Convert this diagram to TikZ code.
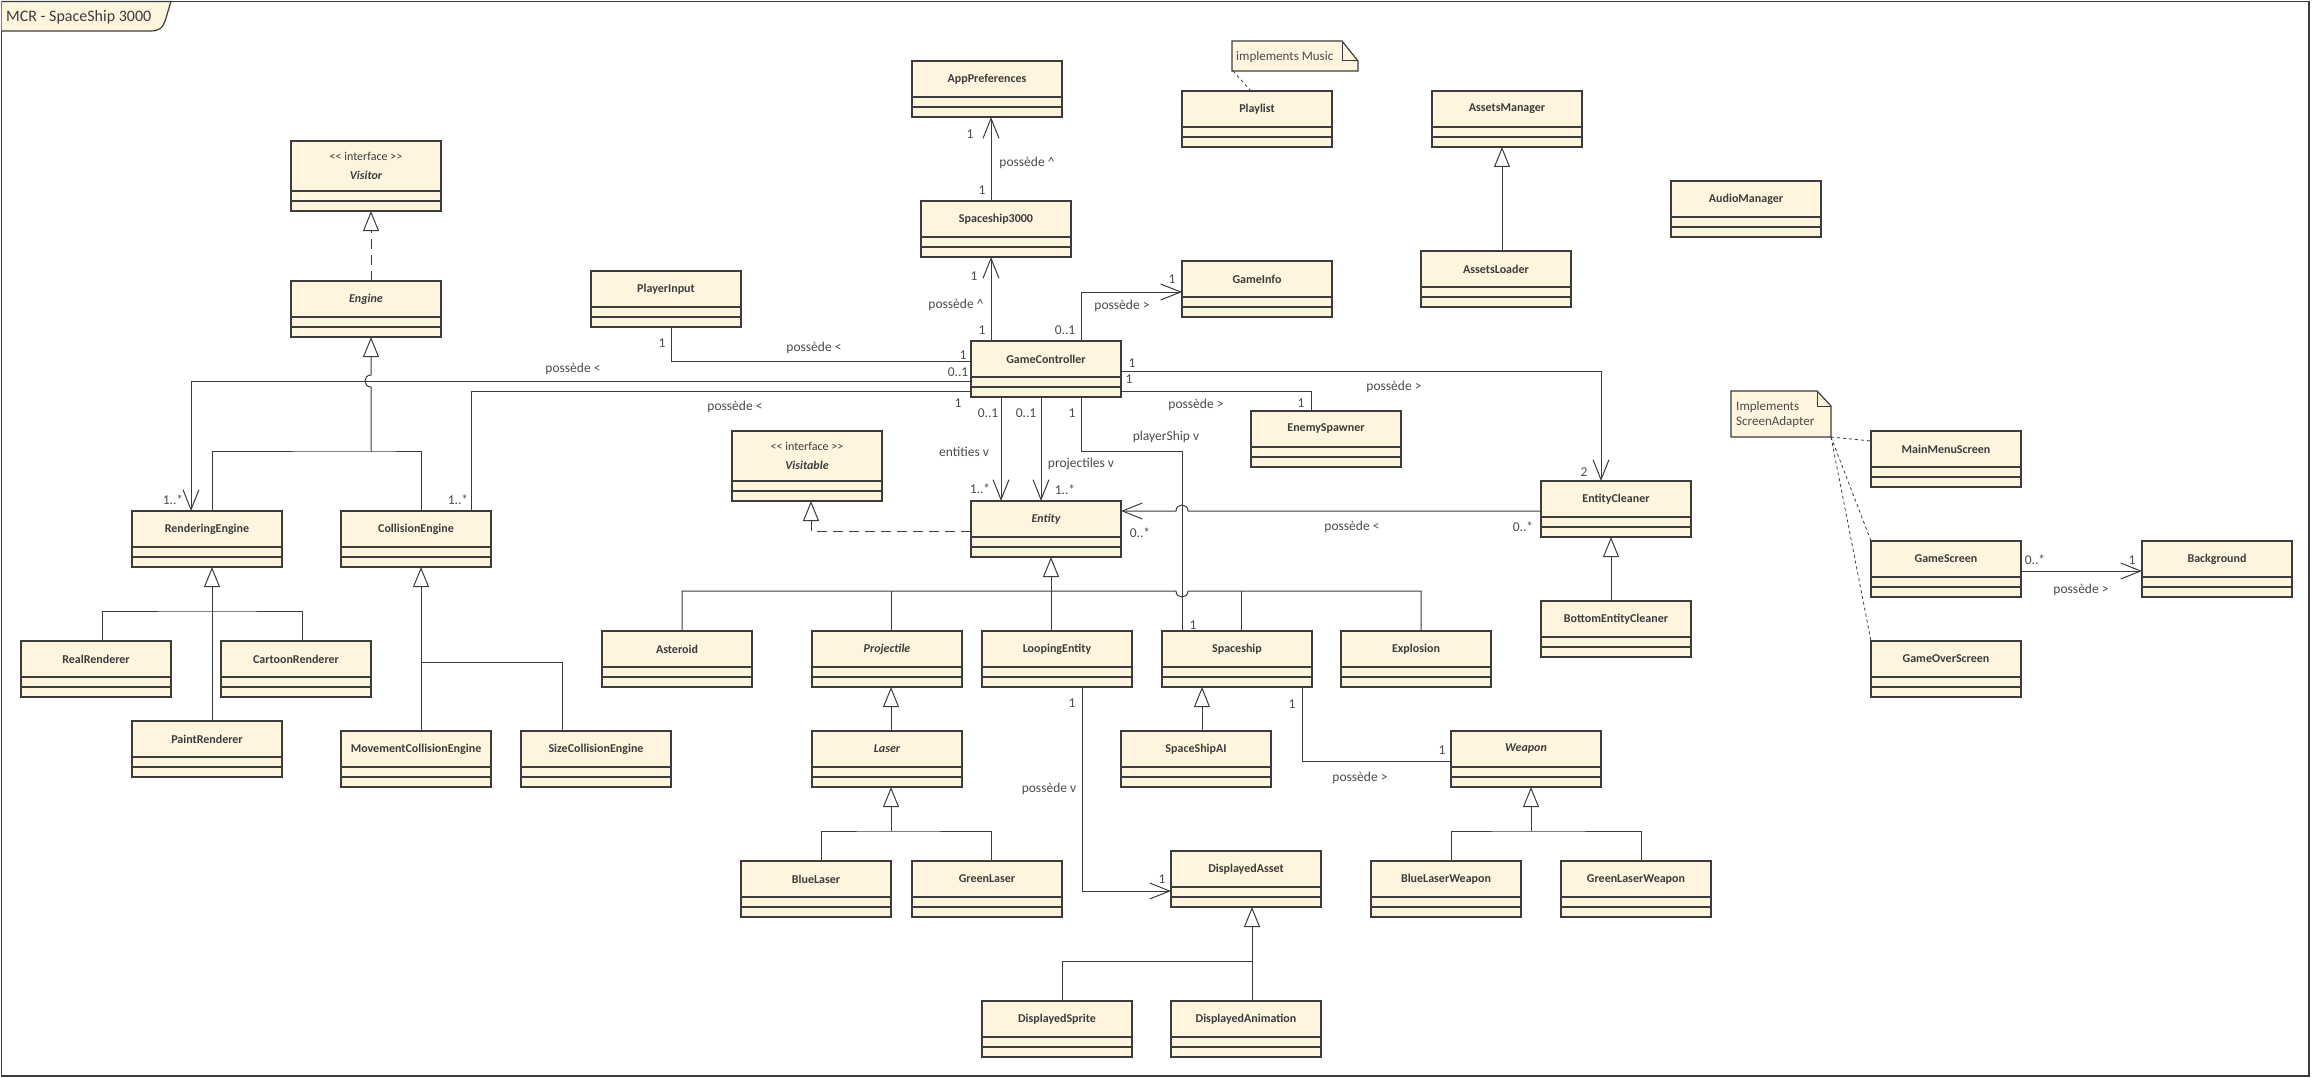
\documentclass[tikz,border=0pt]{standalone}
\usepackage{fontspec}
\setmainfont{Carlito}
\usetikzlibrary{arrows.meta,calc}
\definecolor{clsfill}{HTML}{FFF5DF}
\definecolor{ink}{HTML}{3C3C3C}
\definecolor{lblink}{HTML}{4A4A4A}
\tikzset{
 clsbox/.style={draw=ink,fill=clsfill,line width=1.2pt,minimum width=150pt,minimum height=56pt,inner sep=0pt,outer sep=0pt},
 clsline/.style={draw=ink,line width=1.2pt},
 clsname/.style={font=\fontsize{12}{14}\selectfont\bfseries,text=ink,inner sep=0pt},
 abstr/.style={font=\fontsize{12}{14}\selectfont\bfseries\itshape},
 stereo/.style={font=\fontsize{12}{14}\selectfont,text=ink,inner sep=0pt},
 lbl/.style={font=\fontsize{13.5}{16}\selectfont,text=lblink,inner sep=0pt},
 conn/.style={draw=ink,line width=1pt},
 assoc/.style={conn,-{Straight Barb[length=20pt,width=16pt]}},
 inh/.style={conn,-{Triangle[open,length=20pt,width=16pt]}},
 realz/.style={inh,dash pattern=on 10pt off 6pt},
 notelink/.style={draw=ink,line width=0.8pt,dash pattern=on 3pt off 3pt},
 notebox/.style={inner sep=0pt,outer sep=0pt,draw=none},
}
\newcommand{\umlcls}[5][]{%
  \node[clsbox,anchor=north west] (#2) at (#3,#4) {};
  \node[clsname,#1] (#2-n) at ($(#2.north west)+(75,18)$) {#5};
  \draw[clsline] ($(#2.north west)+(0,36)$) -- ($(#2.north east)+(0,36)$);
  \draw[clsline] ($(#2.north west)+(0,46)$) -- ($(#2.north east)+(0,46)$);
}
\newcommand{\umlint}[4]{%
  \node[clsbox,minimum height=70pt,anchor=north west] (#1) at (#2,#3) {};
  \node[stereo] (#1-s) at ($(#1.north west)+(75,15)$) {<\kern0pt< interface >\kern0pt>};
  \node[clsname,abstr] (#1-n) at ($(#1.north west)+(75,34)$) {#4};
  \draw[clsline] ($(#1.north west)+(0,50)$) -- ($(#1.north east)+(0,50)$);
  \draw[clsline] ($(#1.north west)+(0,60)$) -- ($(#1.north east)+(0,60)$);
}
\begin{document}
\begin{tikzpicture}[x=1pt,y=-1pt]
\useasboundingbox (0,0) rectangle (2312,1078);
% frame
\draw[draw=ink,line width=1.2pt] (1.5,1.5) rectangle (2309,1076);
\draw[draw=ink,fill=clsfill,line width=1.2pt] (1.5,1.5) -- (171,1.5) -- (166,18) .. controls (163,28) and (160,31) .. (150,31) -- (1.5,31);
\node[anchor=west,inner sep=0pt,text=ink,font=\fontsize{16}{18}\selectfont] (title) at (6,17) {MCR - SpaceShip 3000};

% classes
\umlint{Vis}{291}{141}{Visitor}
\umlcls[abstr]{Eng}{291}{281}{Engine}
\umlcls{PI}{591}{271}{PlayerInput}
\umlcls{AP}{912}{61}{AppPreferences}
\umlcls{PL}{1182}{91}{Playlist}
\umlcls{AM}{1432}{91}{AssetsManager}
\umlcls{AL}{1421}{251}{AssetsLoader}
\umlcls{AuM}{1671}{181}{AudioManager}
\umlcls{S3}{921}{201}{Spaceship3000}
\umlcls{GI}{1182}{261}{GameInfo}
\umlcls{GC}{971}{341}{GameController}
\umlcls{ES}{1251}{411}{EnemySpawner}
\umlint{Vbl}{732}{431}{Visitable}
\umlcls[abstr]{Ent}{971}{501}{Entity}
\umlcls{EC}{1541}{481}{EntityCleaner}
\umlcls{BEC}{1541}{601}{BottomEntityCleaner}
\umlcls{RE}{132}{511}{RenderingEngine}
\umlcls{CE}{341}{511}{CollisionEngine}
\umlcls{RR}{21}{641}{RealRenderer}
\umlcls{CR}{221}{641}{CartoonRenderer}
\umlcls{PR}{132}{721}{PaintRenderer}
\umlcls{MCE}{341}{731}{MovementCollisionEngine}
\umlcls{SCE}{521}{731}{SizeCollisionEngine}
\umlcls{Ast}{602}{631}{Asteroid}
\umlcls[abstr]{Proj}{812}{631}{Projectile}
\umlcls{LE}{982}{631}{LoopingEntity}
\umlcls{SS}{1162}{631}{Spaceship}
\umlcls{Exp}{1341}{631}{Explosion}
\umlcls[abstr]{Las}{812}{731}{Laser}
\umlcls{SAI}{1121}{731}{SpaceShipAI}
\umlcls[abstr]{Wea}{1451}{731}{Weapon}
\umlcls{BL}{741}{861}{BlueLaser}
\umlcls{GL}{912}{861}{GreenLaser}
\umlcls{DA}{1171}{851}{DisplayedAsset}
\umlcls{BLW}{1371}{861}{BlueLaserWeapon}
\umlcls{GLW}{1561}{861}{GreenLaserWeapon}
\umlcls{DS}{982}{1001}{DisplayedSprite}
\umlcls{DAn}{1171}{1001}{DisplayedAnimation}
\umlcls{MMS}{1871}{431}{MainMenuScreen}
\umlcls{GS}{1871}{541}{GameScreen}
\umlcls{GOS}{1871}{641}{GameOverScreen}
\umlcls{BG}{2142}{541}{Background}

% notes
\node[notebox,minimum width=126pt,minimum height=30pt,anchor=north west] (N1) at (1232,41) {};
\draw[draw=ink,fill=clsfill,line width=1.2pt] (N1.north west) -- ($(N1.north east)+(-16,0)$) -- ($(N1.north east)+(0,20)$) -- (N1.south east) -- (N1.south west) -- cycle;
\draw[draw=ink,line width=1pt] ($(N1.north east)+(-16,0)$) -- ($(N1.north east)+(-16,20)$) -- ($(N1.north east)+(0,20)$);
\node[lbl,anchor=west,font=\fontsize{13}{15}\selectfont] (N1-t) at (1236,57) {implements Music};
\node[notebox,minimum width=100pt,minimum height=46pt,anchor=north west] (N2) at (1731,391) {};
\draw[draw=ink,fill=clsfill,line width=1.2pt] (N2.north west) -- ($(N2.north east)+(-14,0)$) -- ($(N2.north east)+(0,15)$) -- (N2.south east) -- (N2.south west) -- cycle;
\draw[draw=ink,line width=1pt] ($(N2.north east)+(-14,0)$) -- ($(N2.north east)+(-14,15)$) -- ($(N2.north east)+(0,15)$);
\node[lbl,anchor=west,align=left,font=\fontsize{13}{15}\selectfont] (N2-t) at (1736,414.5) {Implements\\ScreenAdapter};
\draw[notelink] ($(N1.south west)+(1,0)$) -- ($(PL.north west)+(69,0)$);
\draw[notelink] (N2.south east) -- ($(MMS.north west)+(0,10)$);
\draw[notelink] (N2.south east) -- (GS.north west);
\draw[notelink] (N2.south east) -- (GOS.north west);

% realizations
\draw[realz] ($(Eng.north west)+(80,0)$) -- ($(Vis.south west)+(80,0)$);
\draw[realz] ($(Ent.north west)+(0,30)$) -| ($(Vbl.south west)+(79,0)$);

% Engine hierarchy (with hop)
\draw[inh] ($(Eng.south west)+(80,114)$) -- ($(Eng.south west)+(80,50)$) .. controls +(-8,0) and +(-8,0) .. ($(Eng.south west)+(80,38)$) -- ($(Eng.south west)+(80,0)$);
\draw[conn] ($(RE.north west)+(80,0)$) |- ($(Eng.south west)+(80,114)$) -| ($(CE.north west)+(80,0)$);

% GameController associations
\draw[assoc] ($(GC.north west)+(0,40)$) -| ($(RE.north west)+(59,0)$);
\draw[conn] ($(GC.north west)+(0,50)$) -| ($(CE.north west)+(130,0)$);
\draw[conn] ($(PI.south west)+(80,0)$) |- ($(GC.north west)+(0,20)$);
\draw[assoc] ($(GC.north west)+(20,0)$) -- ($(S3.south west)+(70,0)$);
\draw[assoc] ($(S3.north west)+(70,0)$) -- ($(AP.south west)+(79,0)$);
\draw[assoc] ($(GC.north west)+(110,0)$) |- ($(GI.north west)+(0,31)$);
\draw[assoc] ($(GC.north east)+(0,30)$) -| ($(EC.north west)+(60,0)$);
\draw[conn] ($(GC.north east)+(0,50)$) -| ($(ES.north west)+(60,0)$);
\draw[assoc] ($(GC.south west)+(30,0)$) -- ($(Ent.north west)+(30,0)$);
\draw[assoc] ($(GC.south west)+(70,0)$) -- ($(Ent.north west)+(70,0)$);
\draw[conn] ($(GC.south west)+(110,0)$) -- ($(GC.south west)+(110,54)$) -| ($(SS.north west)+(20,0)$);
\draw[assoc] ($(EC.north west)+(0,30)$) -- (1188,511) .. controls (1188,503) and (1176,503) .. (1176,511) -- ($(Ent.north east)+(0,10)$);

% Entity hierarchy
\draw[inh] ($(Ent.south west)+(80,34)$) -- ($(Ent.south west)+(80,0)$);
\draw[conn] ($(Ast.north west)+(80,0)$) |- (1176,591) .. controls (1176,599) and (1188,599) .. (1188,591) -| ($(Exp.north west)+(80,0)$);
\draw[conn] ($(Proj.north west)+(79,0)$) -- ($(Proj.north west)+(79,-40)$);
\draw[conn] ($(LE.north west)+(69,0)$) -- ($(Ent.south west)+(80,34)$);
\draw[conn] ($(SS.north west)+(79,0)$) -- ($(SS.north west)+(79,-40)$);

% Rendering / Collision hierarchies
\draw[inh] ($(PR.north west)+(80,0)$) -- ($(RE.south west)+(80,0)$);
\draw[conn] ($(RR.north west)+(81,0)$) |- ($(RE.south west)+(80,44)$) -| ($(CR.north west)+(81,0)$);
\draw[inh] ($(MCE.north west)+(80,0)$) -- ($(CE.south west)+(80,0)$);
\draw[conn] ($(SCE.north west)+(41,0)$) |- ($(CE.south west)+(80,95)$);

% Projectile / Laser
\draw[inh] ($(Las.north west)+(79,0)$) -- ($(Proj.south west)+(79,0)$);
\draw[inh] ($(Las.south west)+(79,44)$) -- ($(Las.south west)+(79,0)$);
\draw[conn] ($(BL.north west)+(80,0)$) |- ($(Las.south west)+(79,44)$) -| ($(GL.north west)+(79,0)$);

% Spaceship
\draw[inh] ($(SAI.north west)+(81,0)$) -- ($(SS.south west)+(40,0)$);
\draw[conn] ($(SS.south west)+(140,0)$) |- ($(Wea.north west)+(0,30)$);
\draw[inh] ($(Wea.south west)+(80,44)$) -- ($(Wea.south west)+(80,0)$);
\draw[conn] ($(BLW.north west)+(80,0)$) |- ($(Wea.south west)+(80,44)$) -| ($(GLW.north west)+(80,0)$);

% DisplayedAsset
\draw[assoc] ($(LE.south west)+(100,0)$) |- ($(DA.north west)+(0,40)$);
\draw[inh] ($(DAn.north west)+(81,0)$) -- ($(DA.south west)+(81,0)$);
\draw[conn] ($(DS.north west)+(80,0)$) |- ($(DA.south west)+(81,54)$);

% Assets, cleaner, screens
\draw[inh] ($(AL.north west)+(81,0)$) -- ($(AM.south west)+(70,0)$);
\draw[inh] ($(BEC.north west)+(70,0)$) -- ($(EC.south west)+(70,0)$);
\draw[assoc] ($(GS.north east)+(0,30)$) -- ($(BG.north west)+(0,30)$);

% labels
\foreach \n/\x/\y/\t in {
 1/662/343/1, 2/814/348/possède <, 3/963/355/1, 4/958/372/0..1, 5/958/403/1,
 6/573/369/possède <, 7/173/500/1..*, 8/735/407/possède <, 9/458/500/1..*,
 10/970/134/1, 11/1027/163/possède \textasciicircum, 12/982/190/1, 13/974/276/1,
 14/956/305/possède \textasciicircum, 15/982/330/1, 16/1065/330/0..1, 17/1172/279/1,
 18/1122/306/possède >, 19/1132/363/1, 20/1129/379/1, 21/1394/387/possède >,
 22/1584/472/2, 23/1196/405/possède >, 24/1301/403/1, 25/988/413/0..1,
 26/1026/413/0..1, 27/1072/413/1, 28/964/452/entities v, 29/1081/464/projectiles v,
 30/980/489/1..*, 31/1065/490/1..*, 32/1166/437/playerShip v, 33/1140/533/0..*,
 34/1352/527/possède <, 35/1523/527/0..*, 36/1193/625/1, 37/1072/703/1,
 38/1049/789/possède v, 39/1162/879/1, 40/1292/704/1, 41/1442/750/1,
 42/1360/778/possède >, 43/2035/560/0..*, 44/2132/560/1, 45/2081/590/possède >}
 \node[lbl] (L\n) at (\x,\y) {\t};
\end{tikzpicture}
\end{document}
